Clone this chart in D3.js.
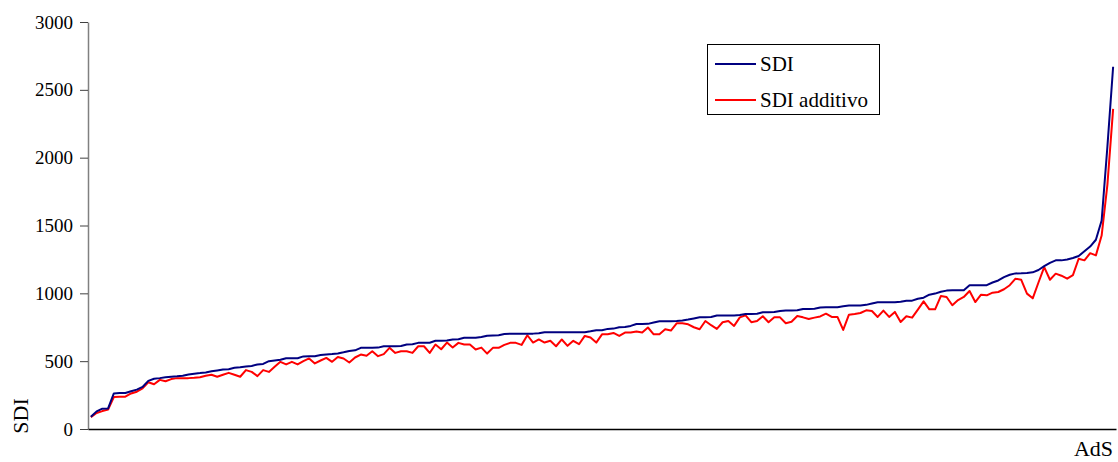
<!DOCTYPE html>
<html>
<head>
<meta charset="utf-8">
<script src="https://cdn.jsdelivr.net/npm/d3@7"></script>
<style>
    body{margin:0;background:#fff;}
    svg{display:block;}
</style>
</head>
<body>
<svg id="chart" width="1118" height="462"></svg>
<script>
// values, one per AdS (sorted by SDI)
var sdi=[90,130,150,152,262,265,265,278,290,310,355,370,375,382,385,388,392,402,408,412,417,425,
    432,439,440,451,455,460,465,476,480,500,505,510,522,522,522,535,537,537,545,550,552,557,565,
    575,580,598,598,598,600,610,610,610,612,623,625,635,635,636,650,650,652,660,662,672,672,672,678,688,690,691,700,703,703,703,703,703,705,713,713,713,713,713,713,713,713,720,
    728,728,738,740,750,752,760,774,774,775,785,794,794,795,796,800,807,815,823,823,825,836,836,836,837,840,848,848,850,860,860,862,870,873,874,875,885,885,886,895,897,897,898,905,910,910,910,915,925,934,934,934,
    934,938,946,946,960,968,990,998,1012,1020,1022,1022,1022,1059,1059,1059,1060,1080,1095,1120,1137,1147,1148,1150,1155,1172,1200,1225,1243,1243,1250,1260,1275,1310,1345,1395,1537,2080,2670];
var sdiAdditivo=[88,118,132,143,235,238,238,262,275,300,345,330,362,352,368,375,375,375,377,382,392,400,
    385,400,414,400,385,434,421,390,434,421,458,495,476,495,476,500,520,483,505,524,495,530,520,
    490,527,549,540,573,537,552,598,561,573,573,561,610,610,561,623,588,637,601,635,623,623,586,600,556,598,598,620,635,635,620,691,637,660,637,650,610,660,613,650,625,686,674,
    637,698,698,708,686,711,711,718,711,748,698,698,735,726,779,779,772,750,735,796,765,738,787,796,760,823,838,787,796,831,787,823,823,780,790,833,823,811,821,830,850,826,826,
    730,843,848,855,875,870,826,873,826,863,789,831,821,880,941,882,882,980,973,912,950,973,1017,936,990,985,1005,1010,1030,1060,1108,1100,998,963,1080,1193,1100,1145,1130,1108,1134,1255,1243,1296,1280,1426,1800,2360];
var yTicks=[0,500,1000,1500,2000,2500,3000];
var seriesNames=['SDI','SDI additivo'];
var seriesColors=['#000080','#ff0000'];

var family='"Liberation Serif","Times New Roman",serif';
var size='19px';
var titleSize='22px';
var legendSize='21px';
var plotLeft=88, plotRight=1116, plotTop=22, plotBottom=429;

var svg=d3.select('#chart');

var x=d3.scalePoint()
    .domain(d3.range(sdi.length))
    .range([plotLeft,plotRight])
    .padding(0.5);
var y=d3.scaleLinear()
    .domain([0,3000])
    .range([plotBottom,plotTop]);

// y axis
var yAxis=svg.append('g')
    .attr('transform','translate('+plotLeft+',0)')
    .call(d3.axisLeft(y).tickValues(yTicks).tickFormat(d3.format('d')).tickSize(8).tickSizeOuter(0).tickPadding(7));
yAxis.select('.domain').attr('stroke','#808080').attr('stroke-width',1.5);
yAxis.selectAll('.tick line').attr('stroke','#404040');
yAxis.selectAll('.tick text')
    .style('font-family',family)
    .style('font-size',size)
    .attr('fill','#000');

// x axis, no ticks
var xAxis=svg.append('g')
    .attr('transform','translate(0,'+plotBottom+')')
    .call(d3.axisBottom(x).tickValues([]).tickSizeOuter(0));
xAxis.select('.domain').attr('stroke','#000').attr('stroke-width',1.5);

var line=d3.line()
    .x(function(d,i){return x(i);})
    .y(function(d){return y(d);});

var data=[sdi,sdiAdditivo];
// red first so navy sits on top where they meet
svg.selectAll('path.series')
    .data([1,0])
    .enter()
    .append('path')
    .attr('class','series')
    .attr('fill','none')
    .attr('stroke',function(k){return seriesColors[k];})
    .attr('stroke-width',2)
    .attr('stroke-linejoin','round')
    .attr('d',function(k){return line(data[k]);});

// axis titles
svg.append('text')
    .attr('transform','translate(28,416) rotate(-90)')
    .attr('text-anchor','middle')
    .style('font-family',family)
    .style('font-size',titleSize)
    .text('SDI');
svg.append('text')
    .attr('x',1113)
    .attr('y',456)
    .attr('text-anchor','end')
    .style('font-family',family)
    .style('font-size',titleSize)
    .text('AdS');

// legend
var legend=svg.append('g');
legend.append('rect')
    .attr('x',707.5)
    .attr('y',44.5)
    .attr('width',172)
    .attr('height',70)
    .attr('fill','#fff')
    .attr('stroke','#000')
    .attr('stroke-width',1);
var items=legend.selectAll('g.item')
    .data(seriesNames)
    .enter()
    .append('g')
    .attr('class','item')
    .attr('transform',function(d,i){return 'translate(0,'+(64+i*36)+')';});
items.append('line')
    .attr('x1',715)
    .attr('x2',756)
    .attr('y1',0)
    .attr('y2',0)
    .attr('stroke',function(d,i){return seriesColors[i];})
    .attr('stroke-width',2);
items.append('text')
    .attr('x',760)
    .attr('y',7)
    .style('font-family',family)
    .style('font-size',legendSize)
    .text(function(d){return d;});
</script>
</body>
</html>
